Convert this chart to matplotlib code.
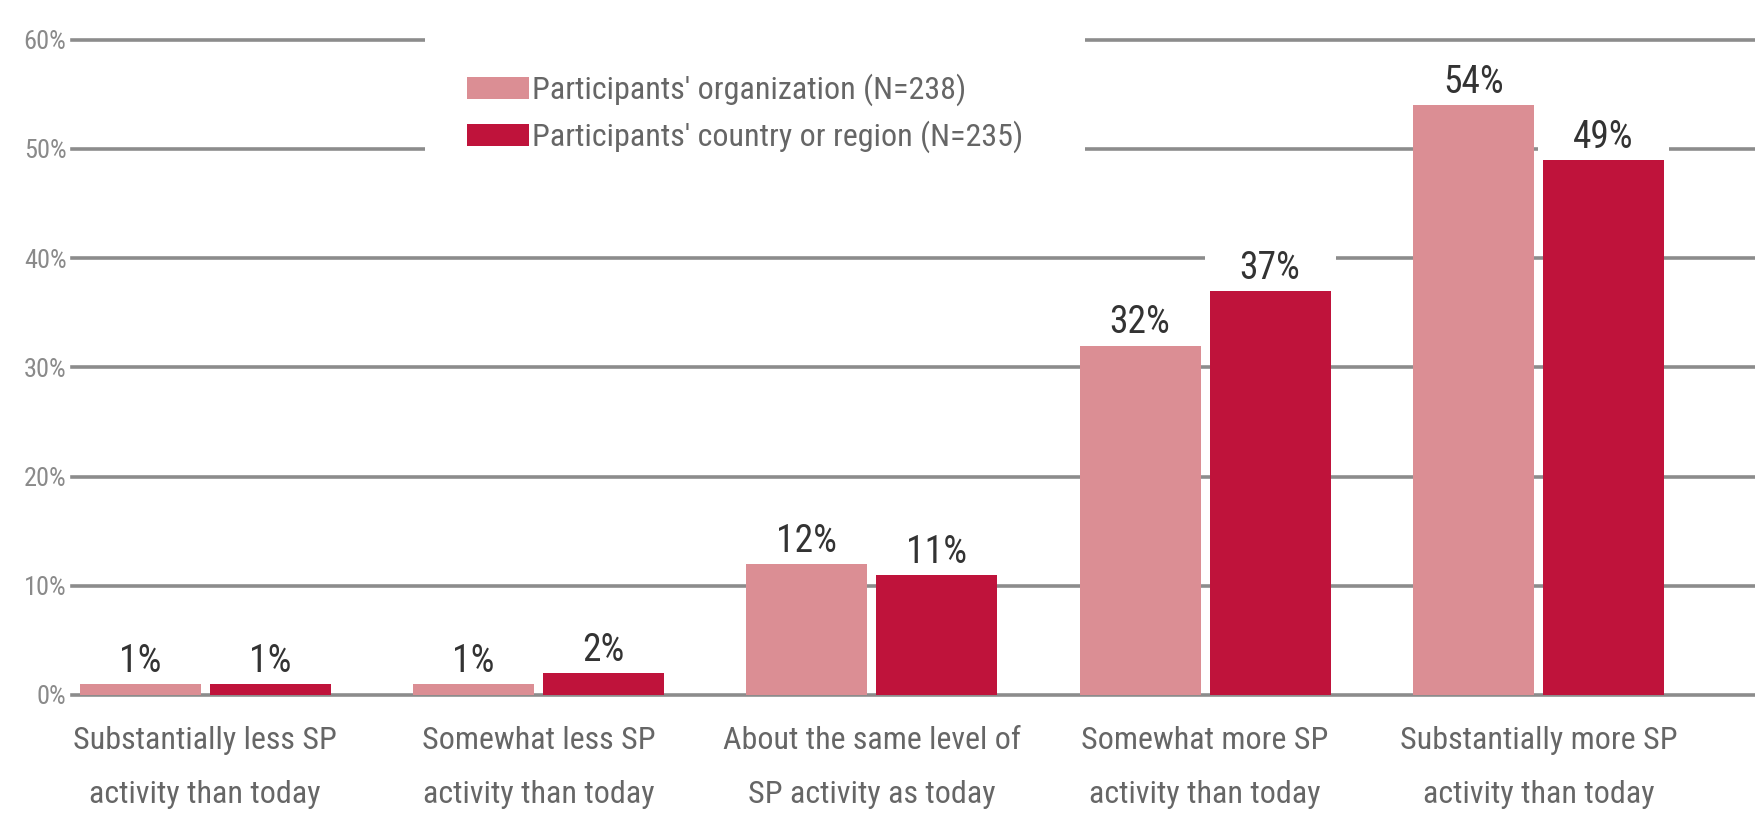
import matplotlib
matplotlib.use("Agg")
import matplotlib.pyplot as plt
from matplotlib.patches import Patch, Rectangle
import numpy as np

plt.rcParams['font.family'] = ['Roboto Condensed', 'DejaVu Sans']

categories = [
    "Substantially less SP\nactivity than today",
    "Somewhat less SP\nactivity than today",
    "About the same level of\nSP activity as today",
    "Somewhat more SP\nactivity than today",
    "Substantially more SP\nactivity than today",
]
org_values = [1, 1, 12, 32, 54]
country_values = [1, 2, 11, 37, 49]
series_names = [
    "Participants' organization (N=238)",
    "Participants' country or region (N=235)",
]
y_ticks = [0, 10, 20, 30, 40, 50, 60]

LIGHT = '#DB8E94'
DARK = '#BF133B'
GRID = '#8c8c8c'

fig = plt.figure(figsize=(17.55, 8.18), dpi=100)
ax = fig.add_axes([0.041, 0.1504, 0.959, 0.821])

x = np.arange(len(categories))
w = 0.363
off = 0.195

bars1 = ax.bar(x - off, org_values, w, color=LIGHT, zorder=3)
bars2 = ax.bar(x + off, country_values, w, color=DARK, zorder=3)

# white boxes behind the value labels so the gridlines break there
ax.bar(x - off, 5, w + 0.03, bottom=org_values, color='white', zorder=2)
ax.bar(x + off, 5, w + 0.03, bottom=country_values, color='white', zorder=2)

for xs, vals in [(x - off, org_values), (x + off, country_values)]:
    for xi, v in zip(xs, vals):
        ax.annotate(f"{v}%", (xi, v), xytext=(0, 3), textcoords='offset points',
                    ha='center', va='bottom', fontsize=27, color='#333333', zorder=4)

ax.set_xlim(-0.4, 4.65)
ax.set_ylim(0, 61.5)
ax.set_yticks(y_ticks)
ax.set_yticklabels([f"{t}%" for t in y_ticks], fontsize=19, color='#8a8a8a')
ax.set_xticks(x)
ax.set_xticklabels(categories, fontsize=23, color='#666666', linespacing=2.1)
ax.tick_params(axis='y', length=0, pad=4)
ax.tick_params(axis='x', length=0, pad=22)

ax.yaxis.grid(True, color=GRID, linewidth=2.6, zorder=0)
ax.set_axisbelow(True)
for line in ax.get_ygridlines():
    line.set_clip_on(False)
for s in ax.spines.values():
    s.set_visible(False)

# white area behind the legend
ax.add_patch(Rectangle((0.242, 0.798), 0.376, 0.171, transform=fig.transFigure,
                       facecolor='white', edgecolor='none', zorder=2.5, clip_on=False))

handles = [Patch(facecolor=LIGHT), Patch(facecolor=DARK)]
leg = ax.legend(handles, series_names, loc='upper left',
                bbox_to_anchor=(0.266, 0.91), bbox_transform=fig.transFigure,
                frameon=False, borderpad=0, borderaxespad=0, fontsize=23,
                handlelength=1.95, handleheight=0.7, handletextpad=0.1,
                labelspacing=0.45, labelcolor='#666666')
leg.set_zorder(5)

fig.savefig('out.png', dpi=100)
